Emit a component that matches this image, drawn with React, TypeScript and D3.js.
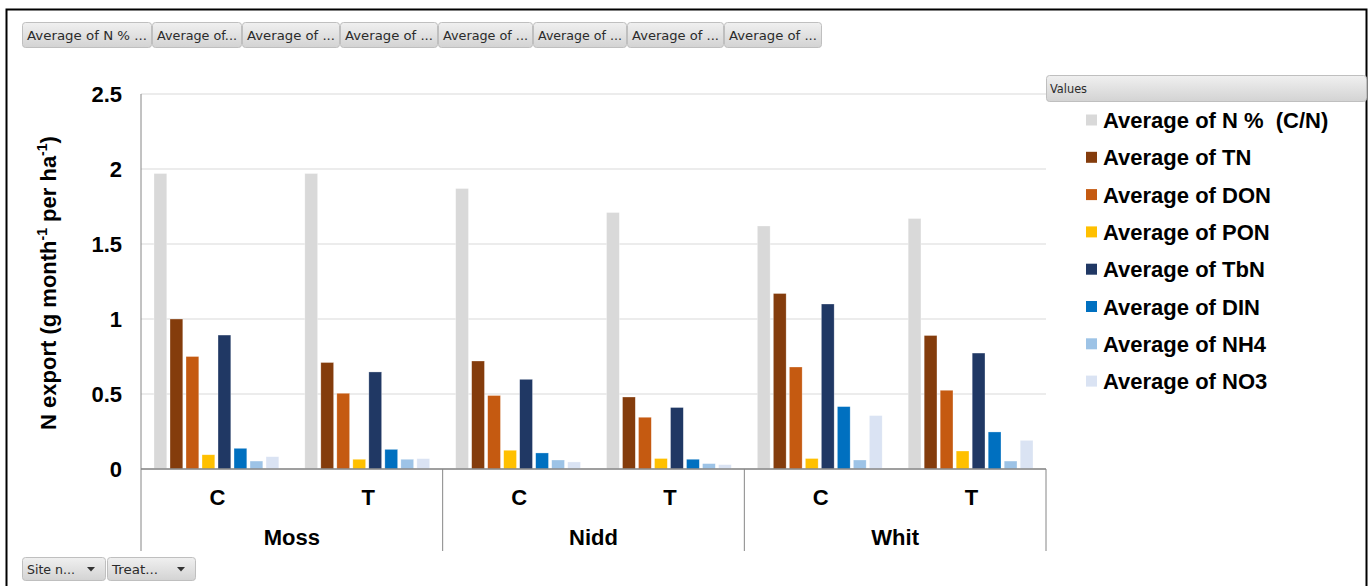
import React from "react";
import * as d3 from "d3";

const sites = ["Moss", "Nidd", "Whit"];
const treatments = ["C", "T"];
const seriesNames = [
  "Average of N %  (C/N)",
  "Average of TN",
  "Average of DON",
  "Average of PON",
  "Average of TbN",
  "Average of DIN",
  "Average of NH4",
  "Average of NO3",
];
const seriesColors = ["#D9D9D9", "#843C0C", "#C55A11", "#FFC000", "#203864", "#0070C0", "#9DC3E6", "#DAE3F3"];
// values per series, order: Moss C, Moss T, Nidd C, Nidd T, Whit C, Whit T
const nPercent = [1.97, 1.97, 1.87, 1.71, 1.62, 1.67];
const tn = [1.0, 0.71, 0.72, 0.48, 1.17, 0.89];
const don = [0.75, 0.505, 0.49, 0.345, 0.68, 0.525];
const pon = [0.095, 0.065, 0.125, 0.07, 0.07, 0.12];
const tbn = [0.893, 0.647, 0.598, 0.41, 1.1, 0.773];
const din = [0.138, 0.131, 0.107, 0.065, 0.416, 0.247];
const nh4 = [0.053, 0.065, 0.06, 0.036, 0.06, 0.053];
const no3 = [0.082, 0.069, 0.047, 0.029, 0.356, 0.191];
const seriesValues = [nPercent, tn, don, pon, tbn, din, nh4, no3];
const yTicks = [0, 0.5, 1, 1.5, 2, 2.5];
const yTickLabels = ["0", "0.5", "1", "1.5", "2", "2.5"];
const topButtons = [
  "Average of N % ...",
  "Average of...",
  "Average of ...",
  "Average of ...",
  "Average of ...",
  "Average of ...",
  "Average of ...",
  "Average of ...",
];
const bottomButtons = ["Site n...", "Treat..."];

const W = 1368;
const H = 586;
const plotL = 141;
const plotR = 1046;
const y0 = 469;
const yTop = 94;
const sepBottom = 551;
const boldFont = "'Liberation Sans', Arial, sans-serif";
const uiFont = "'DejaVu Sans', Tahoma, sans-serif";

function Button({ x, y, w, h, label, arrow, tw }: any) {
  return (
    <g>
      <rect x={x + 0.5} y={y + 0.5} width={w - 1} height={h - 1} rx={3} fill="url(#btnGrad)" stroke="#BFBFBF" />
      <text
        x={x + 5}
        y={y + h / 2 + 4.5}
        fontFamily={uiFont}
        fontSize={12.5}
        fill="#2b2b2b"
        textLength={tw}
        lengthAdjust="spacingAndGlyphs"
      >
        {label}
      </text>
      {arrow && <path d={`M${x + w - 19},${y + h / 2 - 2} h8 l-4,4.5 z`} fill="#333" />}
    </g>
  );
}

export default function App() {
  const ySc = d3.scaleLinear().domain([0, 2.5]).range([y0, yTop]);
  const siteSc = d3.scaleBand<string>().domain(sites).range([plotL, plotR]);
  const treatSc = d3.scaleBand<string>().domain(treatments).range([0, siteSc.bandwidth()]);
  const catW = treatSc.bandwidth();
  const barSc = d3
    .scaleBand<number>()
    .domain(d3.range(seriesNames.length))
    .range([13, catW - 13])
    .paddingInner(0.2);

  const cats: { site: string; treat: string; x0: number; idx: number }[] = [];
  sites.forEach((s) =>
    treatments.forEach((t) => {
      cats.push({ site: s, treat: t, x0: (siteSc(s) as number) + (treatSc(t) as number), idx: cats.length });
    })
  );

  const topXs = [22, 152, 242, 340, 438, 533, 627, 724, 822];

  return (
    <svg
      width={W}
      height={H}
      style={{ position: "absolute", left: 0, top: 0, background: "#fff" }}
      xmlns="http://www.w3.org/2000/svg"
    >
      <defs>
        <linearGradient id="btnGrad" x1="0" y1="0" x2="0" y2="1">
          <stop offset="0" stopColor="#F0F0F0" />
          <stop offset="1" stopColor="#D3D3D3" />
        </linearGradient>
      </defs>
      <rect x={0} y={0} width={W} height={H} fill="#fff" />
      <rect x={6.5} y={9.5} width={1360} height={700} fill="none" stroke="#000" strokeWidth={2} />

      {/* top field buttons */}
      {topButtons.map((b, i) => (
        <Button
          key={i}
          x={topXs[i]}
          y={22}
          w={topXs[i + 1] - topXs[i]}
          h={26}
          label={b}
          tw={topXs[i + 1] - topXs[i] - 10}
        />
      ))}

      {/* gridlines */}
      {yTicks.map((t) => (
        <line key={t} x1={plotL} x2={plotR} y1={ySc(t)} y2={ySc(t)} stroke="#D9D9D9" strokeWidth={1} />
      ))}

      {/* bars */}
      {cats.map((c) =>
        seriesValues.map((vals, si) => {
          const x = c.x0 + (barSc(si) as number);
          const yv = ySc(vals[c.idx]);
          return (
            <rect
              key={c.idx + "-" + si}
              x={x}
              y={yv}
              width={barSc.bandwidth()}
              height={y0 - yv}
              fill={seriesColors[si]}
              stroke="#fff"
              strokeOpacity={0.5}
              strokeWidth={0.6}
            />
          );
        })
      )}

      {/* axes */}
      <line x1={plotL} x2={plotL} y1={yTop} y2={sepBottom} stroke="#868686" strokeWidth={1} />
      <line x1={plotL} x2={plotR} y1={y0} y2={y0} stroke="#868686" strokeWidth={1.5} />
      {sites.map((s) => {
        const xe = (siteSc(s) as number) + siteSc.bandwidth();
        return <line key={s} x1={xe} x2={xe} y1={y0} y2={sepBottom} stroke="#868686" strokeWidth={1} />;
      })}

      {/* y tick labels */}
      {yTicks.map((t, i) => (
        <text
          key={t}
          x={122}
          y={ySc(t) + 8}
          textAnchor="end"
          fontFamily={boldFont}
          fontWeight="bold"
          fontSize={22}
          fill="#000"
        >
          {yTickLabels[i]}
        </text>
      ))}

      {/* y title */}
      <text
        transform="translate(56,283) rotate(-90)"
        textAnchor="middle"
        fontFamily={boldFont}
        fontWeight="bold"
        fontSize={22}
        fill="#000"
      >
        <tspan>N export (g month</tspan>
        <tspan fontSize={14} dy={-9}>-1</tspan>
        <tspan dy={9}>  per ha</tspan>
        <tspan fontSize={14} dy={-9}>-1</tspan>
        <tspan dy={9}>)</tspan>
      </text>

      {/* x labels */}
      {cats.map((c) => (
        <text
          key={"t" + c.idx}
          x={c.x0 + catW / 2 + 1}
          y={505}
          textAnchor="middle"
          fontFamily={boldFont}
          fontWeight="bold"
          fontSize={22}
          fill="#000"
        >
          {c.treat}
        </text>
      ))}
      {sites.map((s) => (
        <text
          key={s}
          x={(siteSc(s) as number) + siteSc.bandwidth() / 2}
          y={545}
          textAnchor="middle"
          fontFamily={boldFont}
          fontWeight="bold"
          fontSize={22}
          fill="#000"
        >
          {s}
        </text>
      ))}

      {/* legend */}
      <rect x={1046.5} y={75.5} width={320} height={26} rx={3} fill="url(#btnGrad)" stroke="#BFBFBF" />
      <text x={1050} y={93} fontFamily={uiFont} fontSize={12.5} fill="#2b2b2b" textLength={37} lengthAdjust="spacingAndGlyphs">
        Values
      </text>
      {seriesNames.map((n, i) => {
        const cy = 120 + i * 37.3;
        return (
          <g key={n}>
            <rect x={1086} y={cy - 5.5} width={11} height={11} fill={seriesColors[i]} />
            <text
              x={1103}
              y={cy + 8}
              fontFamily={boldFont}
              fontWeight="bold"
              fontSize={22}
              fill="#000"
              style={{ whiteSpace: "pre" }}
            >
              {n}
            </text>
          </g>
        );
      })}

      {/* bottom field buttons */}
      <Button x={22} y={557} w={84} h={24} label={bottomButtons[0]} arrow tw={48} />
      <Button x={107} y={557} w={89} h={24} label={bottomButtons[1]} arrow tw={46} />
    </svg>
  );
}
